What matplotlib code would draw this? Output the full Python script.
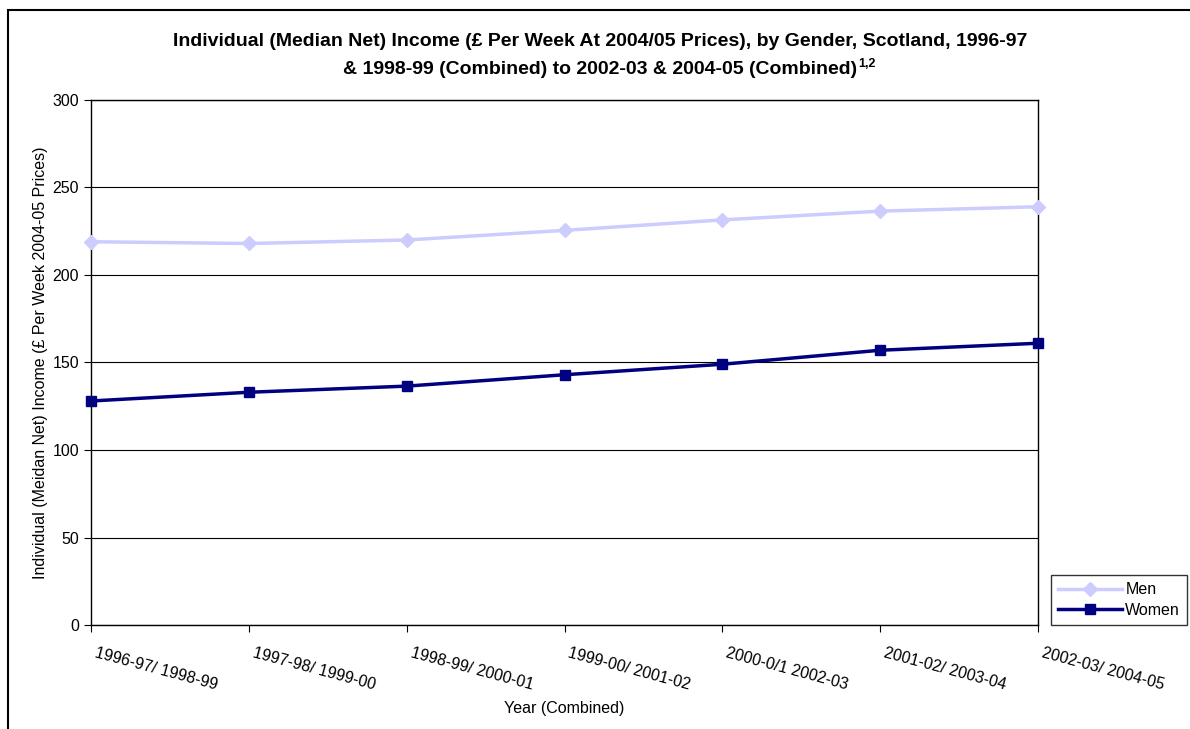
import numpy as np
import matplotlib.pyplot as plt
import matplotlib.transforms as mtransforms
from matplotlib.patches import Rectangle

plt.rcParams['font.family'] = ['Liberation Sans', 'DejaVu Sans']

years = ['1996-97/ 1998-99', '1997-98/ 1999-00', '1998-99/ 2000-01', '1999-00/ 2001-02',
         '2000-0/1 2002-03', '2001-02/ 2003-04', '2002-03/ 2004-05']
men = [219, 218, 220, 225.5, 231.5, 236.5, 239]
women = [128, 133, 136.5, 143, 149, 157, 161]

fig = plt.figure(figsize=(11.9, 7.29), dpi=100)
ax = fig.add_axes([91/1190, 1 - 625/729, (1038 - 91)/1190, (625 - 100)/729])

x = np.arange(len(years))
ax.plot(x, men, color='#ccccff', lw=2.5, marker='D', ms=7, label='Men', zorder=3, clip_on=False)
ax.plot(x, women, color='#000080', lw=2.5, marker='s', ms=7, label='Women', zorder=3, clip_on=False)

ax.set_xlim(0, len(years) - 1)
ax.set_ylim(0, 300)
ax.set_yticks(range(0, 301, 50))
ax.grid(axis='y', color='black', lw=0.8)
ax.set_axisbelow(True)
for s in ax.spines.values():
    s.set_color('black')
    s.set_linewidth(1)

ax.set_xticks(x)
ax.set_xticklabels(years, rotation=-15, ha='left', va='top', rotation_mode='anchor', fontsize=11.5)
ax.tick_params(axis='x', length=5, pad=10)
ax.tick_params(axis='y', length=5, labelsize=11.5)
# shift x tick labels a little to the right
shift = mtransforms.ScaledTranslation(6/100, 0, fig.dpi_scale_trans)
for lab in ax.get_xticklabels():
    lab.set_transform(lab.get_transform() + shift)

ax.set_xlabel('Year (Combined)', fontsize=11.5, labelpad=6)
ax.set_ylabel('Individual (Meidan Net) Income (£ Per Week 2004-05 Prices)', fontsize=11.5, labelpad=3)

fig.text(0.504, 1 - 42/729,
         'Individual (Median Net) Income (£ Per Week At 2004/05 Prices), by Gender, Scotland, 1996-97',
         ha='center', va='center', fontsize=14, fontweight='bold')
t2 = fig.text(0.504, 1 - 69/729,
              '& 1998-99 (Combined) to 2002-03 & 2004-05 (Combined)',
              ha='center', va='center', fontsize=14, fontweight='bold')
fig.canvas.draw()
bb = t2.get_window_extent()
fig.text(bb.x1 / 1190 + 0.001, bb.y1 / 729 + 0.003, '1,2', ha='left', va='top',
         fontsize=9, fontweight='bold')

leg = fig.legend(loc='lower left', bbox_to_anchor=(1051/1190, 1 - 625/729), fontsize=11.5,
                 frameon=True, fancybox=False, edgecolor='black', handlelength=4,
                 borderpad=0.45, labelspacing=0.35, handletextpad=0.2, borderaxespad=0)
leg.get_frame().set_linewidth(1)

fig.patches.append(Rectangle((8/1190, -0.1), 1.2, 1 - 10/729 + 0.1, transform=fig.transFigure,
                             fill=False, edgecolor='black', lw=1.5))

fig.savefig('out.png', dpi=100)
